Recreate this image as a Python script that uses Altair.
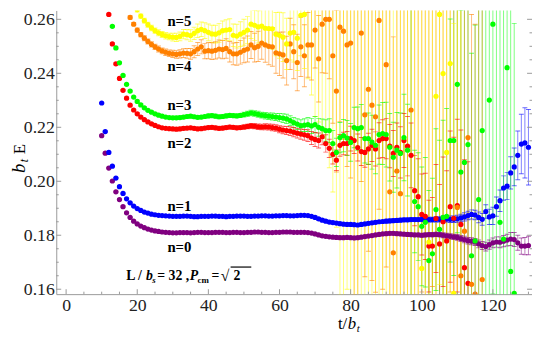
import altair as alt
import pandas as pd

# ---------------- data ----------------
SERIES = ["n=0", "n=1", "n=2", "n=3", "n=4", "n=5"]
COLORS = ["#800080", "#0000ff", "#ff0000", "#00ff00", "#ff8000", "#ffff00"]

T0 = list(range(10, 131))
V0 = [0.2169, 0.2104, 0.2049, 0.2001, 0.1961, 0.1932, 0.1906, 0.1883, 0.1866, 0.1852,
      0.1842, 0.1834, 0.1828, 0.1823, 0.1819, 0.1816, 0.1814, 0.1812, 0.1811, 0.1810,
      0.1809, 0.1809, 0.1810, 0.1810, 0.1810, 0.1809, 0.1810, 0.1811, 0.1811, 0.1810,
      0.1810, 0.1810, 0.1811, 0.1811, 0.1811, 0.1810, 0.1810, 0.1811, 0.1811, 0.1810,
      0.1810, 0.1811, 0.1811, 0.1812, 0.1812, 0.1811, 0.1811, 0.1810, 0.1810, 0.1811,
      0.1811, 0.1812, 0.1812, 0.1812, 0.1811, 0.1811, 0.1811, 0.1811, 0.1810, 0.1808,
      0.1805, 0.1801, 0.1798, 0.1796, 0.1794, 0.1793, 0.1792, 0.1791, 0.1791, 0.1792,
      0.1791, 0.1790, 0.1791, 0.1793, 0.1795, 0.1797, 0.1799, 0.1801, 0.1803, 0.1805,
      0.1806, 0.1807, 0.1807, 0.1806, 0.1805, 0.1804, 0.1803, 0.1802, 0.1801, 0.1801,
      0.1800, 0.1801, 0.1802, 0.1802, 0.1803, 0.1802, 0.1800, 0.1798, 0.1796, 0.1794,
      0.1792, 0.1788, 0.1784, 0.1780, 0.1778, 0.1775, 0.1768, 0.1762, 0.1758, 0.1765,
      0.1772, 0.1775, 0.1774, 0.1778, 0.1782, 0.1786, 0.1784, 0.1772, 0.1760, 0.1760, 0.1762]
E0 = [0.0002, 0.0002, 0.0002, 0.0002, 0.0002, 0.0002, 0.0002, 0.0002, 0.0002, 0.0002,
      0.0002, 0.0002, 0.0002, 0.0002, 0.0002, 0.0002, 0.0002, 0.0002, 0.0002, 0.0002,
      0.0003, 0.0003, 0.0003, 0.0003, 0.0003, 0.0003, 0.0003, 0.0003, 0.0003, 0.0003,
      0.0003, 0.0003, 0.0003, 0.0003, 0.0003, 0.0003, 0.0003, 0.0003, 0.0003, 0.0003,
      0.0003, 0.0003, 0.0003, 0.0003, 0.0003, 0.0003, 0.0003, 0.0003, 0.0003, 0.0003,
      0.0003, 0.0003, 0.0003, 0.0003, 0.0003, 0.0003, 0.0003, 0.0003, 0.0003, 0.0003,
      0.0004, 0.0004, 0.0005, 0.0005, 0.0005, 0.0005, 0.0005, 0.0005, 0.0005, 0.0005,
      0.0005, 0.0005, 0.0005, 0.0005, 0.0005, 0.0005, 0.0005, 0.0005, 0.0005, 0.0005,
      0.0006, 0.0006, 0.0006, 0.0006, 0.0006, 0.0006, 0.0006, 0.0006, 0.0006, 0.0006,
      0.0007, 0.0007, 0.0007, 0.0008, 0.0008, 0.0008, 0.0009, 0.0009, 0.0010, 0.0010,
      0.0011, 0.0011, 0.0012, 0.0012, 0.0013, 0.0013, 0.0014, 0.0015, 0.0016, 0.0017,
      0.0018, 0.0019, 0.0020, 0.0021, 0.0022, 0.0024, 0.0026, 0.0028, 0.0030, 0.0032, 0.0034]

T1 = list(range(10, 131))
V1 = [0.2290, 0.2184, 0.2107, 0.2056, 0.2012, 0.1980, 0.1955, 0.1935, 0.1920, 0.1908,
      0.1899, 0.1892, 0.1886, 0.1882, 0.1878, 0.1876, 0.1874, 0.1873, 0.1872, 0.1871,
      0.1870, 0.1870, 0.1870, 0.1871, 0.1871, 0.1870, 0.1869, 0.1869, 0.1870, 0.1870,
      0.1870, 0.1871, 0.1871, 0.1870, 0.1870, 0.1869, 0.1870, 0.1870, 0.1871, 0.1871,
      0.1871, 0.1870, 0.1870, 0.1871, 0.1871, 0.1872, 0.1872, 0.1871, 0.1871, 0.1872,
      0.1872, 0.1873, 0.1873, 0.1872, 0.1872, 0.1873, 0.1874, 0.1874, 0.1873, 0.1870,
      0.1866, 0.1861, 0.1856, 0.1852, 0.1849, 0.1847, 0.1845, 0.1843, 0.1841, 0.1840,
      0.1840, 0.1839, 0.1838, 0.1840, 0.1842, 0.1844, 0.1846, 0.1848, 0.1850, 0.1851,
      0.1852, 0.1853, 0.1854, 0.1855, 0.1856, 0.1857, 0.1857, 0.1858, 0.1858, 0.1858,
      0.1859, 0.1859, 0.1858, 0.1858, 0.1859, 0.1859, 0.1860, 0.1860, 0.1859, 0.1859,
      0.1861, 0.1864, 0.1868, 0.1873, 0.1877, 0.1875, 0.1866, 0.1859, 0.1888, 0.1868,
      0.1872, 0.1906, 0.1928, 0.1975, 0.1982, 0.2031, 0.2053, 0.2096, 0.2138, 0.2142, 0.2126]
E1 = [0.0002, 0.0002, 0.0002, 0.0002, 0.0002, 0.0002, 0.0002, 0.0002, 0.0002, 0.0002,
      0.0002, 0.0002, 0.0002, 0.0002, 0.0002, 0.0002, 0.0002, 0.0002, 0.0002, 0.0002,
      0.0003, 0.0003, 0.0003, 0.0003, 0.0003, 0.0003, 0.0003, 0.0003, 0.0003, 0.0003,
      0.0003, 0.0003, 0.0003, 0.0003, 0.0003, 0.0003, 0.0003, 0.0003, 0.0003, 0.0003,
      0.0003, 0.0003, 0.0003, 0.0003, 0.0003, 0.0003, 0.0003, 0.0003, 0.0003, 0.0003,
      0.0003, 0.0003, 0.0003, 0.0003, 0.0003, 0.0003, 0.0003, 0.0003, 0.0003, 0.0003,
      0.0005, 0.0005, 0.0005, 0.0005, 0.0005, 0.0005, 0.0005, 0.0005, 0.0005, 0.0005,
      0.0005, 0.0005, 0.0005, 0.0005, 0.0005, 0.0005, 0.0005, 0.0005, 0.0005, 0.0005,
      0.0007, 0.0007, 0.0007, 0.0007, 0.0007, 0.0007, 0.0007, 0.0007, 0.0007, 0.0007,
      0.0008, 0.0008, 0.0009, 0.0009, 0.0010, 0.0010, 0.0011, 0.0011, 0.0012, 0.0012,
      0.0013, 0.0014, 0.0015, 0.0016, 0.0017, 0.0018, 0.0020, 0.0022, 0.0025, 0.0028,
      0.0032, 0.0036, 0.0040, 0.0045, 0.0050, 0.0060, 0.0070, 0.0090, 0.0110, 0.0130, 0.0140]

T2 = list(range(12, 114))
V2 = [0.2618, 0.2509, 0.2435, 0.2381, 0.2337, 0.2308, 0.2282, 0.2264,
      0.2250, 0.2238, 0.2228, 0.2220, 0.2213, 0.2207, 0.2202, 0.2198, 0.2196, 0.2195,
      0.2194, 0.2193, 0.2194, 0.2196, 0.2197, 0.2198, 0.2196, 0.2194, 0.2195, 0.2197,
      0.2199, 0.2200, 0.2198, 0.2196, 0.2197, 0.2199, 0.2201, 0.2200, 0.2198, 0.2199,
      0.2201, 0.2203, 0.2205, 0.2204, 0.2202, 0.2201, 0.2202, 0.2201, 0.2199, 0.2197,
      0.2193, 0.2190, 0.2188, 0.2186, 0.2182, 0.2178, 0.2175, 0.2172, 0.2169, 0.2160,
      0.2155, 0.2151, 0.2165, 0.2140, 0.2122, 0.2100, 0.2078, 0.2133, 0.2140, 0.2140,
      0.2158, 0.2151, 0.2125, 0.2110, 0.2107, 0.2120, 0.2133, 0.2120, 0.2151, 0.2158,
      0.2158, 0.2130, 0.2103, 0.2126, 0.2107, 0.2151, 0.2130, 0.2096, 0.1965, 0.1943,
      0.1877, 0.1870, 0.1760, 0.1760, 0.1862, 0.1768, 0.1850, 0.1779, 0.1906, 0.1863,
      0.1910, 0.1840, 0.1680, 0.1622]
E2 = [0.0003, 0.0003, 0.0003, 0.0003, 0.0003, 0.0003, 0.0003, 0.0003,
      0.0004, 0.0004, 0.0004, 0.0004, 0.0004, 0.0004, 0.0004, 0.0004, 0.0004, 0.0004,
      0.0006, 0.0006, 0.0006, 0.0006, 0.0006, 0.0006, 0.0006, 0.0006, 0.0006, 0.0006,
      0.0007, 0.0007, 0.0007, 0.0007, 0.0007, 0.0007, 0.0007, 0.0007, 0.0007, 0.0007,
      0.0008, 0.0008, 0.0009, 0.0009, 0.0010, 0.0010, 0.0011, 0.0011, 0.0012, 0.0012,
      0.0013, 0.0014, 0.0015, 0.0016, 0.0017, 0.0018, 0.0019, 0.0020, 0.0022, 0.0024,
      0.0026, 0.0028, 0.0030, 0.0032, 0.0034, 0.0036, 0.0038, 0.0040, 0.0042, 0.0044,
      0.0046, 0.0048, 0.0050, 0.0052, 0.0055, 0.0058, 0.0060, 0.0063, 0.0066, 0.0070,
      0.0075, 0.0080, 0.0085, 0.0090, 0.0095, 0.0100, 0.0110, 0.0120, 0.0130, 0.0140,
      0.0150, 0.0160, 0.0170, 0.0180, 0.0200, 0.0220, 0.0240, 0.0260, 0.0280, 0.0300,
      0.0320, 0.0350, 0.0400, 0.0450]

T3 = list(range(13, 127))
V3 = [0.2574, 0.2494, 0.2439, 0.2392, 0.2359, 0.2334, 0.2312,
      0.2296, 0.2283, 0.2272, 0.2263, 0.2256, 0.2250, 0.2245, 0.2241, 0.2238, 0.2236,
      0.2235, 0.2235, 0.2236, 0.2238, 0.2240, 0.2241, 0.2239, 0.2237, 0.2238, 0.2240,
      0.2242, 0.2243, 0.2241, 0.2239, 0.2240, 0.2242, 0.2244, 0.2243, 0.2242, 0.2244,
      0.2247, 0.2250, 0.2253, 0.2251, 0.2248, 0.2245, 0.2243, 0.2241, 0.2240, 0.2238,
      0.2236, 0.2234, 0.2231, 0.2225, 0.2217, 0.2212, 0.2206, 0.2208, 0.2210, 0.2205,
      0.2210, 0.2200, 0.2195, 0.2188, 0.2188, 0.2140, 0.2107, 0.2162, 0.2169, 0.2160,
      0.2144, 0.2199, 0.2195, 0.2199, 0.2158, 0.2158, 0.2145, 0.2133, 0.2173, 0.2177,
      0.2173, 0.2126, 0.2089, 0.2115, 0.2103, 0.2162, 0.2115, 0.1500, 0.1925, 0.1906,
      0.1833, 0.1848, 0.1706, 0.1731, 0.1895, 0.1822, 0.1866, 0.1870, 0.2151, 0.2151,
      0.2359, 0.2034, 0.2070, 0.2136, 0.1724, 0.1779, 0.1932, 0.2188, 0.2760, 0.2301,
      0.2582, 0.1480, 0.1848, 0.1786, 0.2421, 0.1666, 0.1585]
E3 = [0.0003, 0.0003, 0.0003, 0.0003, 0.0003, 0.0003, 0.0003,
      0.0004, 0.0004, 0.0004, 0.0004, 0.0004, 0.0004, 0.0004, 0.0004, 0.0004, 0.0004,
      0.0006, 0.0006, 0.0006, 0.0006, 0.0006, 0.0006, 0.0006, 0.0006, 0.0006, 0.0006,
      0.0007, 0.0007, 0.0007, 0.0007, 0.0007, 0.0007, 0.0007, 0.0007, 0.0007, 0.0007,
      0.0009, 0.0009, 0.0010, 0.0010, 0.0011, 0.0011, 0.0012, 0.0012, 0.0013, 0.0013,
      0.0015, 0.0016, 0.0017, 0.0018, 0.0019, 0.0020, 0.0022, 0.0024, 0.0026, 0.0028,
      0.0030, 0.0033, 0.0036, 0.0040, 0.0044, 0.0048, 0.0052, 0.0056, 0.0060, 0.0065,
      0.0070, 0.0075, 0.0080, 0.0085, 0.0090, 0.0095, 0.0100, 0.0105, 0.0110, 0.0115,
      0.0120, 0.0125, 0.0130, 0.0140, 0.0150, 0.0160, 0.0170, 0.1200, 0.0190, 0.0200,
      0.0220, 0.0240, 0.0260, 0.0280, 0.0300, 0.0330, 0.0360, 0.0400, 0.0450, 0.0500,
      0.0550, 0.0600, 0.0650, 0.0700, 0.0750, 0.0800, 0.0850, 0.0900, 0.1200, 0.1000,
      0.1000, 0.1200, 0.1000, 0.1000, 0.1000, 0.1000, 0.1000]

T4 = list(range(17, 118))
V4 = [0.2644, 0.2607, 0.2582,
      0.2560, 0.2543, 0.2530, 0.2518, 0.2507, 0.2498, 0.2490, 0.2483, 0.2478, 0.2474,
      0.2472, 0.2470, 0.2472, 0.2475, 0.2474, 0.2472, 0.2480, 0.2490, 0.2498, 0.2482,
      0.2484, 0.2482, 0.2485, 0.2490, 0.2488, 0.2492, 0.2480, 0.2472, 0.2472, 0.2478,
      0.2485, 0.2490, 0.2505, 0.2495, 0.2500, 0.2512, 0.2505, 0.2500, 0.2498, 0.2476,
      0.2472, 0.2468, 0.2447, 0.2509, 0.2480, 0.2440, 0.2498, 0.2465, 0.2505, 0.2505,
      0.2560, 0.2454, 0.2582, 0.2600, 0.2600, 0.2465, 0.2334, 0.2571, 0.2556, 0.2505,
      0.2512, 0.2780, 0.2720, 0.2549, 0.2246, 0.2341, 0.2282, 0.2239, 0.2596, 0.2800,
      0.2432, 0.1961, 0.1735, 0.2038, 0.1954, 0.2760, 0.1520, 0.2264, 0.2740, 0.1500,
      0.2790, 0.1490, 0.2750, 0.2810, 0.1530, 0.2770, 0.1480, 0.2730, 0.2790, 0.1510,
      0.1903, 0.1650, 0.1815, 0.2162, 0.1618, 0.1582, 0.1490, 0.1636]
E4 = [0.0006, 0.0006, 0.0006,
      0.0008, 0.0008, 0.0009, 0.0009, 0.0010, 0.0010, 0.0011, 0.0011, 0.0012, 0.0012,
      0.0013, 0.0014, 0.0015, 0.0016, 0.0018, 0.0020, 0.0022, 0.0024, 0.0026, 0.0028,
      0.0030, 0.0031, 0.0032, 0.0033, 0.0034, 0.0036, 0.0038, 0.0040, 0.0042, 0.0044,
      0.0046, 0.0048, 0.0050, 0.0053, 0.0056, 0.0060, 0.0064, 0.0068, 0.0072, 0.0076,
      0.0080, 0.0085, 0.0090, 0.0095, 0.0100, 0.0105, 0.0110, 0.0115, 0.0120, 0.0130,
      0.0140, 0.0160, 0.0180, 0.0200, 0.0220, 0.0250, 0.0300, 0.0350, 0.0400, 0.0450,
      0.0500, 0.1200, 0.1200, 0.0550, 0.0600, 0.0600, 0.0650, 0.0650, 0.0700, 0.1200,
      0.0750, 0.0750, 0.0800, 0.0800, 0.0850, 0.1200, 0.1200, 0.0900, 0.1200, 0.1200,
      0.1200, 0.1200, 0.1200, 0.1200, 0.1200, 0.1200, 0.1200, 0.1200, 0.1200, 0.1200,
      0.1000, 0.1000, 0.1000, 0.1000, 0.1000, 0.1000, 0.1200, 0.1000]

T5 = list(range(19, 112))
V5 = [0.2660,
      0.2635, 0.2612, 0.2595, 0.2580, 0.2568, 0.2558, 0.2550, 0.2544, 0.2539, 0.2536,
      0.2534, 0.2533, 0.2537, 0.2545, 0.2543, 0.2540, 0.2548, 0.2558, 0.2563, 0.2558,
      0.2552, 0.2546, 0.2545, 0.2550, 0.2558, 0.2560, 0.2562, 0.2541, 0.2538, 0.2545,
      0.2552, 0.2560, 0.2582, 0.2578, 0.2572, 0.2575, 0.2567, 0.2566, 0.2565, 0.2545,
      0.2541, 0.2534, 0.2509, 0.2549, 0.2552, 0.2530, 0.2615, 0.2618, 0.2680, 0.2700,
      0.2690, 0.2720, 0.2710, 0.2740, 0.2700, 0.2760, 0.2730, 0.2780, 0.2750, 0.2800,
      0.2770, 0.2820, 0.2790, 0.2760, 0.2810, 0.2850, 0.2780, 0.2830, 0.2800, 0.2870,
      0.2820, 0.2790, 0.2860, 0.2840, 0.2900, 0.2810, 0.2880, 0.2850, 0.2920, 0.2830,
      0.1677, 0.2850, 0.1775, 0.2900, 0.2315, 0.2618, 0.2399, 0.2107, 0.2436, 0.1585,
      0.2880, 0.2940]
E5 = [0.0006,
      0.0008, 0.0008, 0.0009, 0.0009, 0.0010, 0.0010, 0.0011, 0.0011, 0.0012, 0.0012,
      0.0014, 0.0015, 0.0016, 0.0017, 0.0019, 0.0021, 0.0023, 0.0025, 0.0027, 0.0029,
      0.0031, 0.0032, 0.0033, 0.0035, 0.0036, 0.0038, 0.0040, 0.0042, 0.0044, 0.0046,
      0.0048, 0.0050, 0.0053, 0.0056, 0.0060, 0.0064, 0.0068, 0.0072, 0.0076, 0.0080,
      0.0085, 0.0090, 0.0095, 0.0100, 0.0110, 0.0120, 0.0150, 0.0200, 0.0300, 0.0380,
      0.0450, 0.0500, 0.0550, 0.0600, 0.0650, 0.0800, 0.0900, 0.1200, 0.1200, 0.1200,
      0.1200, 0.1300, 0.1250, 0.1200, 0.1300, 0.1350, 0.1250, 0.1300, 0.1300, 0.1350,
      0.1300, 0.1250, 0.1350, 0.1300, 0.1400, 0.1300, 0.1350, 0.1350, 0.1400, 0.1300,
      0.1000, 0.1300, 0.1000, 0.1350, 0.1000, 0.1000, 0.1000, 0.1000, 0.1000, 0.1000,
      0.1350, 0.1400]

X_MAJOR = [0, 20, 40, 60, 80, 100, 120]
X_MINOR = [5, 10, 15, 25, 30, 35, 45, 50, 55, 65, 70, 75, 85, 90, 95, 105, 110, 115, 125, 130]
Y_MAJOR = [0.16, 0.18, 0.20, 0.22, 0.24, 0.26]
Y_MINOR = [0.165, 0.17, 0.175, 0.185, 0.19, 0.195, 0.205, 0.21, 0.215,
           0.225, 0.23, 0.235, 0.245, 0.25, 0.255]

# ---------------- build table ----------------
rows = []
for name, T, V, E in zip(SERIES, [T0, T1, T2, T3, T4, T5], [V0, V1, V2, V3, V4, V5],
                         [E0, E1, E2, E3, E4, E5]):
    for t, v, e in zip(T, V, E):
        rows.append({"t": t, "v": v, "lo": v - e, "hi": v + e, "s": name})
df = pd.DataFrame(rows)

W, H = 483, 288
FONT = "Liberation Serif"
xs = alt.Scale(domain=[-2.77, 131.0], nice=False, zero=False)
ys = alt.Scale(domain=[0.15818, 0.26328], nice=False, zero=False)
col = alt.Color("s:N", scale=alt.Scale(domain=SERIES, range=COLORS), legend=None)

xaxis = alt.Axis(values=X_MAJOR, title=None, ticks=False, grid=False, domainColor="#999999",
                 labelFont=FONT, labelFontSize=18, labelColor="#222222", labelPadding=3,
                 labelFlush=False, labelOverlap=False)
yaxis = alt.Axis(values=Y_MAJOR, format=".2f", title=None, ticks=False, grid=False,
                 domainColor="#999999", labelFont=FONT, labelFontSize=18, labelColor="#222222",
                 labelPadding=2, labelFlush=False, labelOverlap=False)

X = alt.X("t:Q", scale=xs, axis=xaxis)
base = alt.Chart(df)

bars = base.mark_rule(clip=True, strokeWidth=1, opacity=0.5).encode(
    x=X, y=alt.Y("lo:Q", scale=ys, axis=yaxis), y2="hi:Q", color=col)
cap_lo = base.mark_tick(clip=True, orient="horizontal", size=5, thickness=1, opacity=0.6).encode(
    x=X, y=alt.Y("lo:Q", scale=ys, axis=yaxis), color=col)
cap_hi = base.mark_tick(clip=True, orient="horizontal", size=5, thickness=1, opacity=0.6).encode(
    x=X, y=alt.Y("hi:Q", scale=ys, axis=yaxis), color=col)
pts = base.mark_point(clip=True, filled=True, shape="circle", size=28, opacity=1).encode(
    x=X, y=alt.Y("v:Q", scale=ys, axis=yaxis), color=col)

# inward frame ticks
def xticks(vals, ln):
    return alt.Chart(pd.DataFrame({"tv": vals})).mark_rule(color="#999999", strokeWidth=1).encode(
        x=alt.X("tv:Q", scale=xs, axis=xaxis), y=alt.value(H), y2=alt.value(H - ln))

def yticks(vals, ln, right=False):
    x0, x1 = (W, W - ln) if right else (0, ln)
    return alt.Chart(pd.DataFrame({"tv": vals})).mark_rule(color="#999999", strokeWidth=1).encode(
        y=alt.Y("tv:Q", scale=ys, axis=yaxis), x=alt.value(x0), x2=alt.value(x1))

dummy = pd.DataFrame({"k": [0]})

def txt(s, x, y, size=15, weight="bold", style="normal", angle=0, align="left",
        baseline="alphabetic"):
    return alt.Chart(dummy).mark_text(
        text=s, font=FONT, fontSize=size, fontWeight=weight, fontStyle=style, angle=angle,
        align=align, baseline=baseline, color="black").encode(x=alt.value(x), y=alt.value(y))

labels = [txt(SERIES[i], 125, yy, size=15, align="center", baseline="middle")
          for i, yy in zip([5, 4, 3, 2, 1, 0], [11, 56, 96, 135, 199, 240])]

note = [
    txt("L / ", 71, 274, size=14),
    txt("b", 91, 274, size=14, style="italic"),
    txt("s", 97.5, 277, size=9, style="italic"),
    txt("= 32 ,", 102.5, 274, size=14),
    txt("P", 135.5, 274, size=14, style="italic"),
    txt("cm", 143.5, 277, size=9),
    txt("=", 157.5, 274, size=14),
    txt("\u221a", 167, 275, size=16),
    txt("2", 180, 274, size=14),
]
vinc = alt.Chart(dummy).mark_rule(color="black", strokeWidth=1.2).encode(
    x=alt.value(177), x2=alt.value(198), y=alt.value(260.5))

ytitle = [
    txt("b", -32, 165, size=19, weight="normal", style="italic", angle=270),
    txt("t", -29, 154, size=12, weight="normal", style="italic", angle=270),
    txt("E", -32, 146, size=17, weight="normal", angle=270),
]
xtitle = [
    txt("t/", 286, 323, size=17, weight="normal"),
    txt("b", 296, 323, size=17, weight="normal", style="italic"),
    txt("t", 305, 326, size=11, weight="normal", style="italic"),
]

chart = alt.layer(
    bars, cap_lo, cap_hi, pts,
    xticks(X_MAJOR, 5), xticks(X_MINOR, 2.5),
    yticks(Y_MAJOR, 5), yticks(Y_MINOR, 2.5),
    yticks(Y_MAJOR, 5, right=True), yticks(Y_MINOR, 2.5, right=True),
    *labels, *note, vinc, *ytitle, *xtitle,
).properties(
    width=W, height=H,
    autosize=alt.AutoSizeParams(type="none"),
    padding={"left": 49, "top": 0, "right": 0, "bottom": 41},
).configure_view(strokeWidth=0).configure_axis(
    labelFont=FONT, labelFontSize=18, labelColor="#222222")

chart.save("out.html", embed_options={"renderer": "svg", "actions": False})
